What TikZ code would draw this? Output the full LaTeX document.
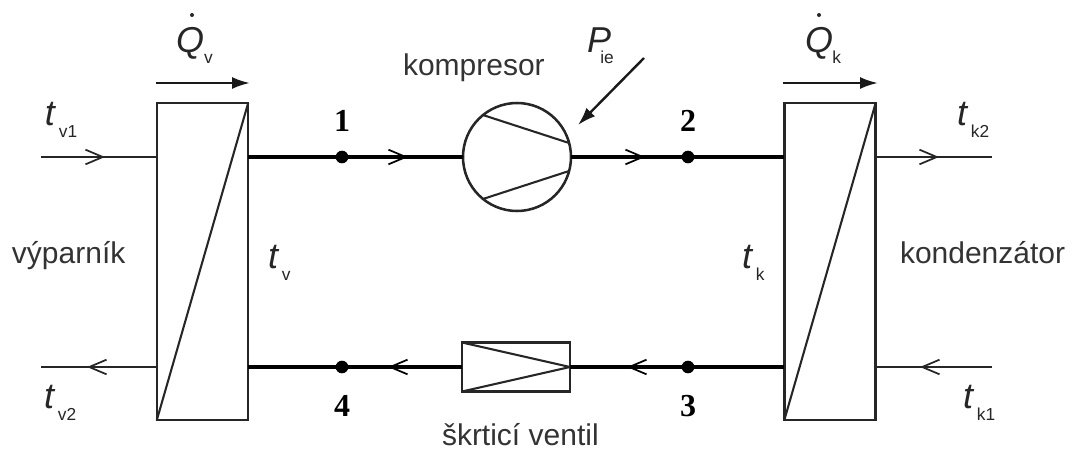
\documentclass[tikz,border=0pt]{standalone}
\usepackage{fontspec}
\setmainfont{Liberation Sans}
\newfontfamily\numfont{Liberation Serif}
\usetikzlibrary{arrows.meta}
\newcommand\symsub[4][0pt]{\fontsize{27}{27}\selectfont\textit{#2}\hspace{#1}\raisebox{-#4}{\fontsize{13}{14}\selectfont #3}}
\tikzset{
  x=0.75pt,y=-0.75pt,
  boxn/.style={draw=black!85,line width=1.9pt,inner sep=0pt,outer sep=0pt},
  hx/.style={boxn,minimum width=68.5pt,minimum height=237.75pt},
  thinln/.style={draw=black!85,line width=1.55pt},
  thickln/.style={draw=black,line width=2.4pt},
  barb/.style={-{Straight Barb[length=13pt,width=11pt,line width=1.3pt]}},
  solidtip/.style={-{Latex[length=13.5pt,width=9pt]}},
  flowln/.style={draw=black!90,line width=1.8pt},
  lbl/.style={inner sep=0pt,outer sep=0pt,anchor=base west,text=black!80,font=\fontsize{22.5}{24}\selectfont},
  sym/.style={inner sep=0pt,outer sep=0pt,anchor=base west,text=black!85},
  num/.style={inner sep=0pt,outer sep=0pt,anchor=base,font=\numfont\bfseries\fontsize{24}{25}\selectfont,text=black},
  dotn/.style={circle,fill=black,inner sep=0pt,minimum size=9.5pt,outer sep=0pt},
  qdot/.style={circle,fill=black!85,inner sep=0pt,minimum size=3pt,outer sep=0pt}
}
\begin{document}
\begin{tikzpicture}
\useasboundingbox (0,0) rectangle (1079,450);
% components
\node[hx] (evap) at (202.5,261.5) {};
\node[hx] (cond) at (830,261.5) {};
\node[boxn,circle,minimum size=81pt] (comp) at (517,157) {};
\node[boxn,minimum width=81pt,minimum height=36.75pt] (valve) at (516,367) {};
\node[dotn] (d1) at (342,157) {};
\node[dotn] (d2) at (688,157) {};
\node[dotn] (d3) at (688,367) {};
\node[dotn] (d4) at (342,367) {};
% interior lines
\draw[thinln] (evap.south west) -- (evap.north east);
\draw[thinln] (cond.south west) -- (cond.north east);
\draw[thinln] (comp.129) -- (comp.15);
\draw[thinln] (comp.-129) -- (comp.-15);
\draw[thinln] (valve.north west) -- (valve.east) -- (valve.south west);
% free ends and arrow tips
\coordinate (a1) at (408,157);
\coordinate (a2) at (645,157);
\coordinate (a3) at (627,367);
\coordinate (a4) at (388,367);
\coordinate (vi) at (41,157);
\coordinate (via) at (105,157);
\coordinate (vo) at (41,367);
\coordinate (voa) at (87,367);
\coordinate (ko) at (992,157);
\coordinate (koa) at (939,157);
\coordinate (ki) at (992,367);
\coordinate (kia) at (920,367);
% main circuit
\draw[thickln] (evap.east |- d1) -- (d1);
\draw[thickln] (d1) -- (comp.west);
\draw[thickln,barb] (d1) -- (a1);
\draw[thickln] (comp.east) -- (d2);
\draw[thickln,barb] (comp.east) -- (a2);
\draw[thickln] (d2) -- (cond.west |- d2);
\draw[thickln] (cond.west |- d3) -- (d3);
\draw[thickln] (d3) -- (valve.east);
\draw[thickln,barb] (d3) -- (a3);
\draw[thickln] (valve.west) -- (d4);
\draw[thickln,barb] (valve.west) -- (a4);
\draw[thickln] (d4) -- (evap.east |- d4);
% secondary circuits
\draw[thinln] (vi) -- (evap.west |- vi);
\draw[thinln,barb] (vi) -- (via);
\draw[thinln] (evap.west |- vo) -- (vo);
\draw[thinln,barb] (evap.west |- vo) -- (voa);
\draw[thinln] (cond.east |- ko) -- (ko);
\draw[thinln,barb] (cond.east |- ko) -- (koa);
\draw[thinln] (ki) -- (cond.east |- ki);
\draw[thinln,barb] (ki) -- (kia);
% heat flow and power arrows
\coordinate (qv0) at (156,83);
\coordinate (qv1) at (250,83);
\coordinate (qk0) at (783,83);
\coordinate (qk1) at (878,83);
\coordinate (p0) at (644,58);
\coordinate (p1) at (578,125);
\draw[flowln,solidtip] (qv0) -- (qv1);
\draw[flowln,solidtip] (qk0) -- (qk1);
\draw[flowln,solidtip] (p0) -- (p1);
% text
\node[lbl] (tkomp) at (403,75) {kompresor};
\node[lbl] (tvent) at (442,445) {škrticí ventil};
\node[lbl] (tvyp) at (12,263) {výparník};
\node[lbl] (tkond) at (900,263) {kondenzátor};
\node[num] (n1) at (342,131) {1};
\node[num] (n2) at (688,131) {2};
\node[num] (n3) at (688,416) {3};
\node[num] (n4) at (342,416) {4};
\node[sym] (ltv1) at (45,125) {\symsub[2pt]{t}{v1}{9.5pt}};
\node[sym] (ltv2) at (44,408) {\symsub[2pt]{t}{v2}{9.5pt}};
\node[sym] (ltv) at (268,268) {\symsub[2pt]{t}{v}{9.5pt}};
\node[sym] (ltk) at (742,268) {\symsub[2pt]{t}{k}{9.5pt}};
\node[sym] (ltk2) at (957,125) {\symsub[2pt]{t}{k2}{9.5pt}};
\node[sym] (ltk1) at (963,408) {\symsub[2pt]{t}{k1}{9.5pt}};
\node[sym] (lp) at (587,52) {\symsub[-8pt]{P}{ie}{8.5pt}};
\node[sym] (lqv) at (176,52) {\symsub[0pt]{Q}{v}{8.5pt}};
\node[sym] (lqk) at (805,52) {\symsub[-0.5pt]{Q}{k}{8.5pt}};
\node[qdot] (dv) at (192,15) {};
\node[qdot] (dk) at (819,15) {};
\end{tikzpicture}
\end{document}
